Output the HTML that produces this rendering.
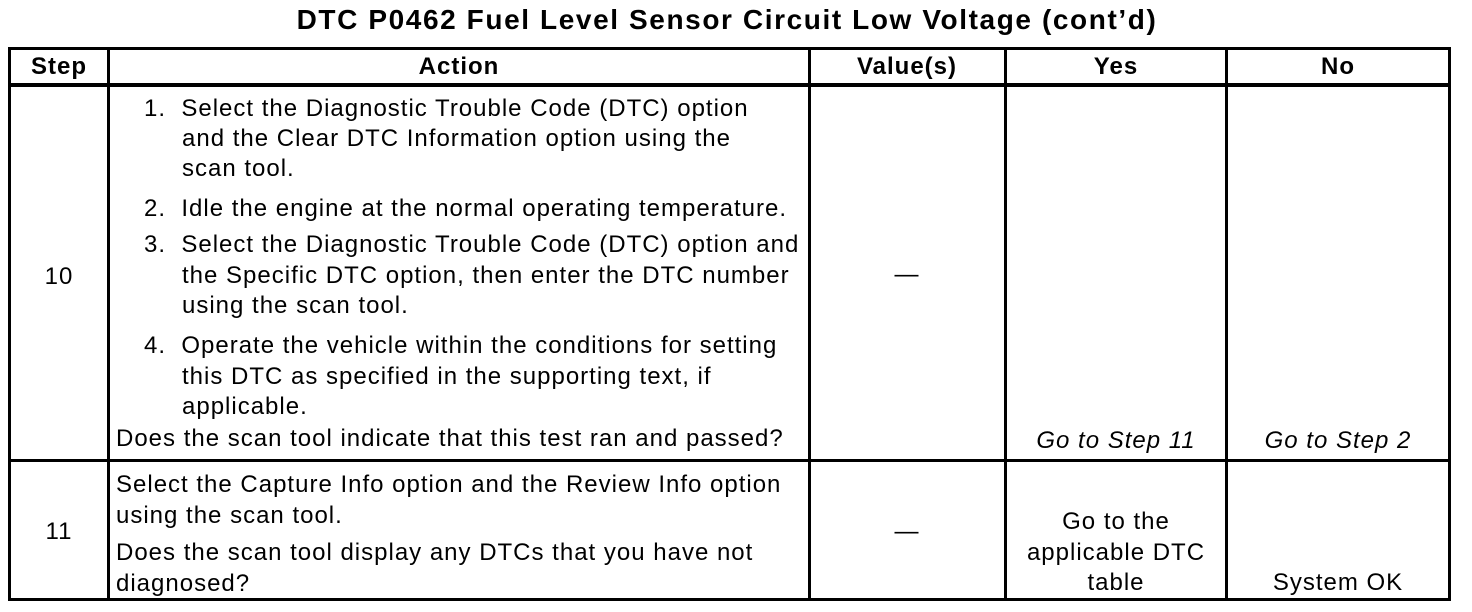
<!DOCTYPE html>
<html><head><meta charset="utf-8"><style>
body{margin:0;width:1472px;height:612px;background:#fff;position:relative;overflow:hidden;font-family:"Liberation Sans",Arial,sans-serif;color:#000}
.t{position:absolute;white-space:nowrap;font-size:24px;line-height:24px;letter-spacing:1px}
.h{position:absolute;background:#000}
.c{transform:translateX(-50%)}
.b{font-weight:bold}
.i{font-style:italic}
</style></head><body>
<div class="t b c" style="left:727px;top:5px;font-size:28px;line-height:30px;letter-spacing:1.6px">DTC P0462 Fuel Level Sensor Circuit Low Voltage (cont’d)</div>
<div class="h" style="left:8px;top:47px;width:1443px;height:3px"></div>
<div class="h" style="left:8px;top:83px;width:1443px;height:4px"></div>
<div class="h" style="left:8px;top:459px;width:1443px;height:3px"></div>
<div class="h" style="left:8px;top:598px;width:1443px;height:3px"></div>
<div class="h" style="left:8px;top:47px;width:3px;height:554px"></div>
<div class="h" style="left:107px;top:47px;width:3px;height:554px"></div>
<div class="h" style="left:808px;top:47px;width:3px;height:554px"></div>
<div class="h" style="left:1004px;top:47px;width:3px;height:554px"></div>
<div class="h" style="left:1225px;top:47px;width:3px;height:554px"></div>
<div class="h" style="left:1448px;top:47px;width:3px;height:554px"></div>
<div class="t b c" style="left:59px;top:55px">Step</div>
<div class="t b c" style="left:459px;top:55px">Action</div>
<div class="t b c" style="left:907px;top:55px">Value(s)</div>
<div class="t b c" style="left:1116px;top:55px">Yes</div>
<div class="t b c" style="left:1338px;top:55px">No</div>
<div class="t c" style="left:59px;top:265px">10</div>
<div class="t" style="left:144px;top:97px">1.&nbsp; Select the Diagnostic Trouble Code (DTC) option</div>
<div class="t" style="left:182px;top:127px">and the Clear DTC Information option using the</div>
<div class="t" style="left:182px;top:157px">scan tool.</div>
<div class="t" style="left:144px;top:197px">2.&nbsp; Idle the engine at the normal operating temperature.</div>
<div class="t" style="left:144px;top:233px">3.&nbsp; Select the Diagnostic Trouble Code (DTC) option and</div>
<div class="t" style="left:182px;top:264px">the Specific DTC option, then enter the DTC number</div>
<div class="t" style="left:182px;top:294px">using the scan tool.</div>
<div class="t" style="left:144px;top:334px">4.&nbsp; Operate the vehicle within the conditions for setting</div>
<div class="t" style="left:182px;top:365px">this DTC as specified in the supporting text, if</div>
<div class="t" style="left:182px;top:395px">applicable.</div>
<div class="t" style="left:116px;top:427px">Does the scan tool indicate that this test ran and passed?</div>
<div class="t c" style="left:907px;top:263px">—</div>
<div class="t i c" style="left:1116px;top:429px">Go to Step 11</div>
<div class="t i c" style="left:1338px;top:429px">Go to Step 2</div>
<div class="t c" style="left:59px;top:520px">11</div>
<div class="t" style="left:116px;top:473px">Select the Capture Info option and the Review Info option</div>
<div class="t" style="left:116px;top:504px">using the scan tool.</div>
<div class="t" style="left:116px;top:541px">Does the scan tool display any DTCs that you have not</div>
<div class="t" style="left:116px;top:572px">diagnosed?</div>
<div class="t c" style="left:907px;top:520px">—</div>
<div class="t c" style="left:1116px;top:510px">Go to the</div>
<div class="t c" style="left:1116px;top:541px">applicable DTC</div>
<div class="t c" style="left:1116px;top:571px">table</div>
<div class="t c" style="left:1338px;top:571px">System OK</div>
</body></html>
